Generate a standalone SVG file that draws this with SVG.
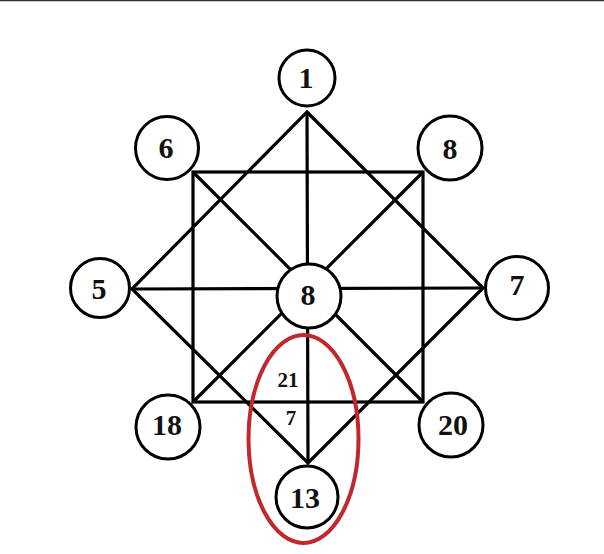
<svg xmlns="http://www.w3.org/2000/svg" width="604" height="554" viewBox="0 0 604 554">
<style>
.ln{stroke:#000;stroke-width:3.2;fill:none;stroke-linejoin:miter}
.nd circle{fill:#fff;stroke:#000;stroke-width:3}
.big{font-family:"Liberation Serif","Times New Roman",serif;font-weight:bold;font-size:30px;fill:#111;text-anchor:middle}
.sm{font-family:"Liberation Serif","Times New Roman",serif;font-weight:bold;font-size:21px;fill:#111;text-anchor:middle}
</style>
<rect x="0" y="0" width="604" height="554" fill="#fff"/>
<line x1="0" y1="0.5" x2="604" y2="0.5" stroke="#333" stroke-width="1.5"/>
<g id="connectors">
<rect class="ln" x="193" y="172" width="230" height="230"/>
<polygon class="ln" points="307,112 483,288 308,463 132,289"/>
<line class="ln" x1="307" y1="112" x2="308" y2="463"/>
<line class="ln" x1="132" y1="289" x2="483" y2="288"/>
<line class="ln" x1="193" y1="172" x2="423" y2="402"/>
<line class="ln" x1="423" y1="172" x2="193" y2="402"/>
</g>
<g id="n1" class="nd"><circle cx="307" cy="78" r="28"/><text class="big" x="306" y="88">1</text></g>
<g id="n6" class="nd"><circle cx="167" cy="148" r="31.5"/><text class="big" x="166" y="158">6</text></g>
<g id="n8top" class="nd"><circle cx="450" cy="148" r="32"/><text class="big" x="450" y="159">8</text></g>
<g id="n5" class="nd"><circle cx="100" cy="288" r="29.5"/><text class="big" x="99" y="299">5</text></g>
<g id="n8c" class="nd"><circle cx="309" cy="296" r="32"/><text class="big" x="308" y="305">8</text></g>
<g id="n7" class="nd"><circle cx="517" cy="288" r="31.5"/><text class="big" x="517" y="295">7</text></g>
<g id="n18" class="nd"><circle cx="168" cy="427" r="32"/><text class="big" x="167" y="435">18</text></g>
<g id="n20" class="nd"><circle cx="451" cy="425" r="32"/><text class="big" x="453" y="435">20</text></g>
<g id="n13" class="nd"><circle cx="307" cy="497" r="31"/><text class="big" x="305" y="508">13</text></g>
<g id="labels">
<text class="sm" x="288" y="387">21</text>
<text class="sm" x="291" y="425">7</text>
</g>
<ellipse id="highlight" cx="303.5" cy="439" rx="55" ry="104" fill="none" stroke="#c0282d" stroke-width="4"/>
</svg>
